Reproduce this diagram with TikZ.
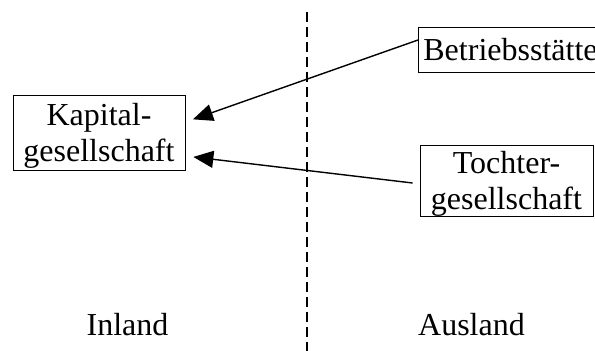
\documentclass[tikz,border=0pt]{standalone}
\usepackage{fontspec}
\setmainfont{Liberation Serif}
\usetikzlibrary{arrows.meta}
\tikzset{
  entity/.style={draw, line width=0.8pt, inner sep=0pt, align=center},
  flow/.style={line width=1.4pt, -{Triangle[length=20pt,width=17pt]}, shorten >=8pt}
}
\begin{document}
\begin{tikzpicture}[x=1pt, y=-1pt, font=\fontsize{32}{36}\selectfont]
    \useasboundingbox (0,0) rectangle (595,351);
    \draw[line width=1.3pt, dash pattern=on 10pt off 5pt] (307,12) -- (307,351);

    \node[entity, minimum width=172pt, minimum height=75pt, text depth=0pt] (kapital) at (99,132.5) {Kapital-\\gesellschaft};
    \node[entity, minimum height=45pt, inner xsep=5pt, anchor=west] (betrieb) at (418,49.5) {Betriebsstätte};
    \node[entity, minimum width=173pt, minimum height=71pt, text depth=-6pt] (tochter) at (506.5,180.5) {Tochter-\\gesellschaft};

    \draw[flow] ([yshift=9.5pt]betrieb.west) -- ([yshift=10.5pt]kapital.east);
    \draw[flow] ([xshift=-7pt, yshift=-2.5pt]tochter.west) -- ([yshift=-23.5pt]kapital.east);

    \node[anchor=base] (inland) at (127.5,335) {Inland};
    \node[anchor=base] (ausland) at (471.5,335) {Ausland};
\end{tikzpicture}
\end{document}
